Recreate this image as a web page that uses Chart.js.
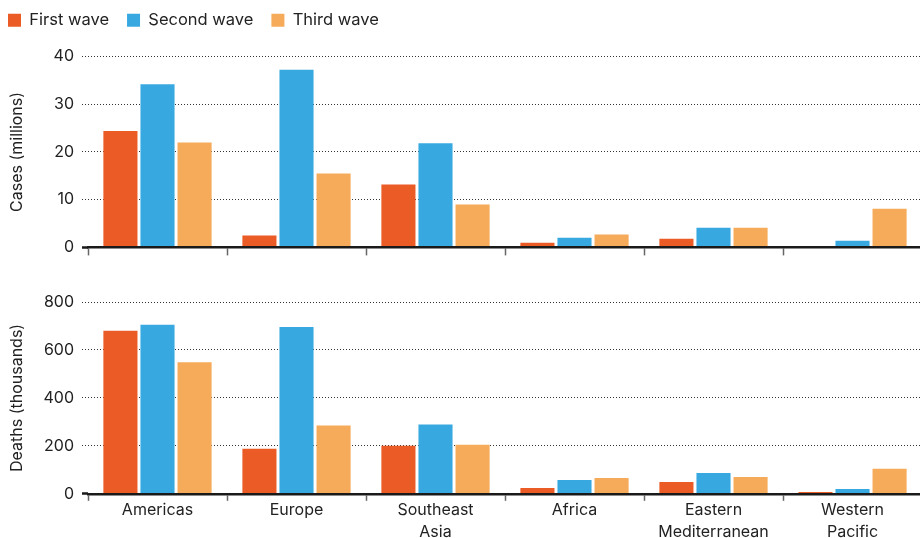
<!DOCTYPE html>
<html>
<head>
<meta charset="utf-8">
<script src="https://cdn.jsdelivr.net/npm/chart.js@4.4.1/dist/chart.umd.min.js"></script>
<style>
  html, body { margin: 0; padding: 0; background: #fff; overflow: hidden; width: 920px; height: 538px; }
  .wrap { position: absolute; left: -10px; }
  #w1 { top: -6px; }
  #w2 { top: 262px; }
  canvas { display: block; }
</style>
</head>
<body>
<div class="wrap" id="w1"><canvas id="c1" width="932" height="271"></canvas></div>
<div class="wrap" id="w2"><canvas id="c2" width="932" height="280"></canvas></div>
<script>
const categories = ['Americas', 'Europe', ['Southeast', 'Asia'], 'Africa', ['Eastern', 'Mediterranean'], ['Western', 'Pacific']];
const seriesNames = ['First wave', 'Second wave', 'Third wave'];
const seriesColors = ['#EB5B26', '#38A9E0', '#F6AB5A'];

const casesFirst  = [24.4, 2.5, 13.2, 1.0, 1.8, 0.2];
const casesSecond = [34.2, 37.2, 21.8, 2.0, 4.1, 1.4];
const casesThird  = [22.0, 15.5, 9.0, 2.7, 4.1, 8.1];

const deathsFirst  = [680, 188, 200, 24, 49, 7];
const deathsSecond = [705, 696, 289, 58, 87, 20];
const deathsThird  = [549, 285, 205, 66, 70, 104];

const casesTicks = [0, 10, 20, 30, 40];
const deathsTicks = [0, 200, 400, 600, 800];

Chart.defaults.font.family = 'Inter, "Noto Sans", sans-serif';
Chart.defaults.font.size = 16;
Chart.defaults.color = '#222';
Chart.defaults.animation = false;

function makeDatasets(a, b, c) {
  return [a, b, c].map((vals, i) => ({
    label: seriesNames[i],
    data: vals,
    backgroundColor: seriesColors[i],
    borderWidth: 0,
    categoryPercentage: 0.8,
    barPercentage: 0.92
  }));
}

function yScale(ticksArr, title) {
  const isZero = c => c.tick && c.tick.value === 0;
  return {
    min: ticksArr[0],
    max: ticksArr[ticksArr.length - 1],
    afterBuildTicks: s => { s.ticks = ticksArr.map(v => ({ value: v })); },
    afterFit: s => { s.width = 98; },
    border: { display: false, dash: [1, 2] },
    grid: {
      color: '#333',
      lineWidth: 1,
      tickLength: 6,
      tickColor: c => isZero(c) ? '#1a1a1a' : '#333',
      tickWidth: c => isZero(c) ? 2.5 : 1,
      tickBorderDash: c => isZero(c) ? [] : [1, 2]
    },
    ticks: { padding: 8, color: '#222', font: { size: 16 } },
    title: { display: true, text: title, color: '#222', font: { size: 16 }, padding: { top: 18, bottom: 0 } }
  };
}

function xScale(showLabels, tickLen) {
  return {
    offset: true,
    border: { display: true, color: '#1a1a1a', width: 2.5, z: 1 },
    grid: { display: true, offset: true, drawOnChartArea: false, drawTicks: true, tickLength: tickLen, tickColor: '#666', tickWidth: 1.5 },
    ticks: { display: showLabels, padding: -1, color: '#222', font: { size: 16, lineHeight: 1.35 }, maxRotation: 0, autoSkip: false }
  };
}

new Chart(document.getElementById('c1'), {
  type: 'bar',
  data: { labels: categories, datasets: makeDatasets(casesFirst, casesSecond, casesThird) },
  options: {
    responsive: false,
    devicePixelRatio: 1,
    layout: { padding: { left: 0, right: 0, top: 0, bottom: 0 } },
    plugins: {
      legend: {
        position: 'top', align: 'start',
        labels: { boxWidth: 13, boxHeight: 13, padding: 18, color: '#222', font: { size: 16.5 } }
      },
      tooltip: { enabled: false }
    },
    scales: {
      spacer: {
        type: 'category', axis: 'x', position: 'top', display: true,
        grid: { display: false, drawTicks: false }, border: { display: false },
        ticks: { display: false },
        afterFit: s => { s.height = 18; }
      },
      x: xScale(false, 8),
      y: yScale(casesTicks, 'Cases (millions)')
    }
  }
});

new Chart(document.getElementById('c2'), {
  type: 'bar',
  data: { labels: categories, datasets: makeDatasets(deathsFirst, deathsSecond, deathsThird) },
  options: {
    responsive: false,
    devicePixelRatio: 1,
    layout: { padding: { left: 0, right: 0, top: 40, bottom: 0 } },
    plugins: { legend: { display: false }, tooltip: { enabled: false } },
    scales: {
      x: xScale(true, 7),
      y: yScale(deathsTicks, 'Deaths (thousands)')
    }
  }
});
</script>
</body>
</html>
